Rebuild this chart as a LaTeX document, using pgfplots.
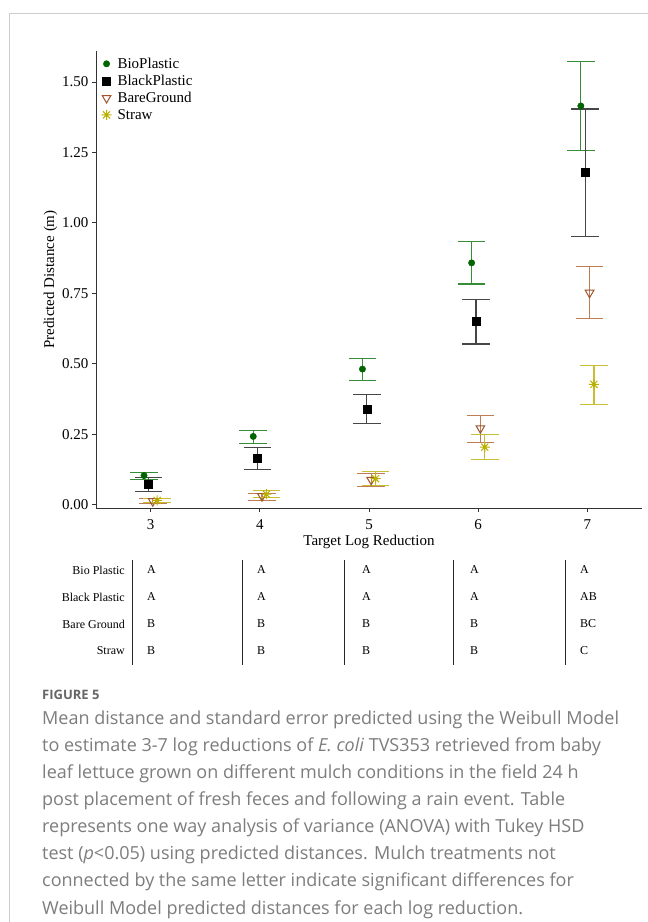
\documentclass[border=0pt]{standalone}
\usepackage{fontspec}
\setmainfont{Liberation Serif}
\newfontfamily\capfont{Open Sans}
\usepackage{pgfplots}
\pgfplotsset{compat=1.18}
\definecolor{bioc}{RGB}{0,100,0}
\definecolor{bioe}{RGB}{55,140,55}
\definecolor{blkc}{RGB}{0,0,0}
\definecolor{blke}{RGB}{70,70,70}
\definecolor{barec}{RGB}{160,82,45}
\definecolor{baree}{RGB}{190,125,85}
\definecolor{strawc}{RGB}{185,175,0}
\definecolor{strawe}{RGB}{200,190,50}
\definecolor{framec}{RGB}{205,205,205}
\definecolor{capgray}{RGB}{125,125,125}
\pgfdeclareplotmark{ast8}{%
  \pgfpathmoveto{\pgfqpoint{0pt}{\pgfplotmarksize}}\pgfpathlineto{\pgfqpoint{0pt}{-\pgfplotmarksize}}%
  \pgfpathmoveto{\pgfqpoint{\pgfplotmarksize}{0pt}}\pgfpathlineto{\pgfqpoint{-\pgfplotmarksize}{0pt}}%
  \pgfpathmoveto{\pgfqpoint{0.7071\pgfplotmarksize}{0.7071\pgfplotmarksize}}\pgfpathlineto{\pgfqpoint{-0.7071\pgfplotmarksize}{-0.7071\pgfplotmarksize}}%
  \pgfpathmoveto{\pgfqpoint{-0.7071\pgfplotmarksize}{0.7071\pgfplotmarksize}}\pgfpathlineto{\pgfqpoint{0.7071\pgfplotmarksize}{-0.7071\pgfplotmarksize}}%
  \pgfusepathqstroke}
\begin{document}
\begin{tikzpicture}[x=1pt,y=1pt]
\useasboundingbox (0,0) rectangle (648,922);
\fill[white] (0,0) rectangle (648,922);
\draw[framec, line width=1pt] (9.5,0) -- (9.5,908) -- (648,908);
\begin{axis}[
  at={(96pt,414pt)}, anchor=south west,
  scale only axis, width=546pt, height=457pt,
  xmin=2.5, xmax=7.5, ymin=-0.012, ymax=1.61,
  axis lines=left, axis line style={-, line width=0.8pt, black!80},
  tick align=outside, major tick length=4pt,
  tick style={black!80, line width=0.8pt},
  xtick={3,4,5,6,7},
  ytick={0,0.25,0.5,0.75,1,1.25,1.5},
  yticklabel style={/pgf/number format/.cd, fixed, fixed zerofill, precision=2},
  /pgf/number format/assume math mode=true,
  ticklabel style={font=\fontsize{15}{17}\selectfont},
  xticklabel style={yshift=-4pt},
  label style={font=\fontsize{15}{17}\selectfont},
  xlabel={Target Log Reduction},
  ylabel={Predicted Distance (m)},
  xlabel style={yshift=1.5pt},
  ylabel style={yshift=-2pt},
  legend style={draw=none, fill=none, at={(0.008,0.992)}, anchor=north west,
    font=\fontsize{15}{17}\selectfont, row sep=1.2pt, column sep=4pt, inner sep=1pt},
  legend cell align=left,
  clip=false,
]
\addplot[only marks, mark=*, mark size=3.2pt, color=bioc,
  error bars/.cd, y dir=both, y explicit,
  error bar style={line width=1.1pt, color=bioe},
  error mark options={rotate=90, mark size=13.8pt, line width=1.1pt, color=bioe}]
coordinates {
 (2.94,0.103) += (0,0.011) -= (0,0.015)
 (3.94,0.242) += (0,0.021) -= (0,0.025)
 (4.94,0.481) += (0,0.038) -= (0,0.040)
 (5.94,0.858) += (0,0.076) -= (0,0.075)
 (6.94,1.415) += (0,0.157) -= (0,0.159)
};
\addlegendentry{BioPlastic}
\addplot[only marks, mark=square*, mark size=4pt, color=blkc,
  error bars/.cd, y dir=both, y explicit,
  error bar style={line width=1.1pt, color=blke},
  error mark options={rotate=90, mark size=13.8pt, line width=1.1pt, color=blke}]
coordinates {
 (2.98,0.071) += (0,0.024) -= (0,0.025)
 (3.98,0.165) += (0,0.038) -= (0,0.041)
 (4.98,0.340) += (0,0.050) -= (0,0.051)
 (5.98,0.650) += (0,0.078) -= (0,0.080)
 (6.98,1.179) += (0,0.225) -= (0,0.227)
};
\addlegendentry{BlackPlastic}
\addplot[only marks, mark=triangle, mark size=5pt, color=barec,
  mark options={rotate=180, line width=1pt, fill=white},
  error bars/.cd, y dir=both, y explicit,
  error bar style={line width=1.1pt, color=baree},
  error mark options={rotate=90, mark size=13.8pt, line width=1.1pt, color=baree}]
coordinates {
 (3.02,0.012) += (0,0.010) -= (0,0.009)
 (4.02,0.030) += (0,0.008) -= (0,0.016)
 (5.02,0.088) += (0,0.024) -= (0,0.024)
 (6.02,0.271) += (0,0.045) -= (0,0.052)
 (7.02,0.752) += (0,0.092) -= (0,0.093)
};
\addlegendentry{BareGround}
\addplot[only marks, mark=ast8, mark size=5pt, color=strawc,
  mark options={line width=1pt},
  error bars/.cd, y dir=both, y explicit,
  error bar style={line width=1.1pt, color=strawe},
  error mark options={rotate=90, mark size=13.8pt, line width=1.1pt, color=strawe}]
coordinates {
 (3.06,0.015) += (0,0.007) -= (0,0.008)
 (4.06,0.037) += (0,0.013) -= (0,0.013)
 (5.06,0.092) += (0,0.025) -= (0,0.025)
 (6.06,0.204) += (0,0.045) -= (0,0.045)
 (7.06,0.427) += (0,0.068) -= (0,0.071)
};
\addlegendentry{Straw}
\end{axis}
% significance table
\begin{scope}[every node/.style={font=\fontsize{12}{14}\selectfont, inner sep=0pt}]
\node[anchor=east] at (125,352) {Bio Plastic};
\node[anchor=east] at (125,325) {Black Plastic};
\node[anchor=east] at (125,298) {Bare Ground};
\node[anchor=east] at (125,271) {Straw};
\foreach \xx in {132,242,344,453,565} {\draw[black!85, line width=0.8pt] (\xx,362) -- (\xx,257);}
\node[anchor=west] at (147,352) {A};
\node[anchor=west] at (147,325) {A};
\node[anchor=west] at (147,298) {B};
\node[anchor=west] at (147,271) {B};
\node[anchor=west] at (257,352) {A};
\node[anchor=west] at (257,325) {A};
\node[anchor=west] at (257,298) {B};
\node[anchor=west] at (257,271) {B};
\node[anchor=west] at (362,352) {A};
\node[anchor=west] at (362,325) {A};
\node[anchor=west] at (362,298) {B};
\node[anchor=west] at (362,271) {B};
\node[anchor=west] at (470,352) {A};
\node[anchor=west] at (470,325) {A};
\node[anchor=west] at (470,298) {B};
\node[anchor=west] at (470,271) {B};
\node[anchor=west] at (580,352) {A};
\node[anchor=west] at (580,325) {AB};
\node[anchor=west] at (580,298) {BC};
\node[anchor=west] at (580,271) {C};
\end{scope}
% caption
\begin{scope}[every node/.style={anchor=base west, inner sep=0pt, text=capgray}]
\node[text=black!60] at (42,222) {\capfont\bfseries\fontsize{13}{15}\selectfont FIGURE 5};
\node at (42,197) {\capfont\fontsize{18}{21}\selectfont Mean distance and standard error predicted using the Weibull Model};
\node at (42,170) {\capfont\fontsize{18}{21}\selectfont to estimate 3-7 log reductions of \textit{E. coli} TVS353 retrieved from baby};
\node at (42,143) {\capfont\fontsize{18}{21}\selectfont leaf lettuce grown on different mulch conditions in the field 24 h};
\node at (42,116) {\capfont\fontsize{18}{21}\selectfont post placement of fresh feces and following a rain event. Table};
\node at (42,89) {\capfont\fontsize{18}{21}\selectfont represents one way analysis of variance (ANOVA) with Tukey HSD};
\node at (42,62) {\capfont\fontsize{18}{21}\selectfont test (\textit{p}<0.05) using predicted distances. Mulch treatments not};
\node at (42,35) {\capfont\fontsize{18}{21}\selectfont connected by the same letter indicate significant differences for};
\node at (42,8) {\capfont\fontsize{18}{21}\selectfont Weibull Model predicted distances for each log reduction.};
\end{scope}
\end{tikzpicture}
\end{document}
